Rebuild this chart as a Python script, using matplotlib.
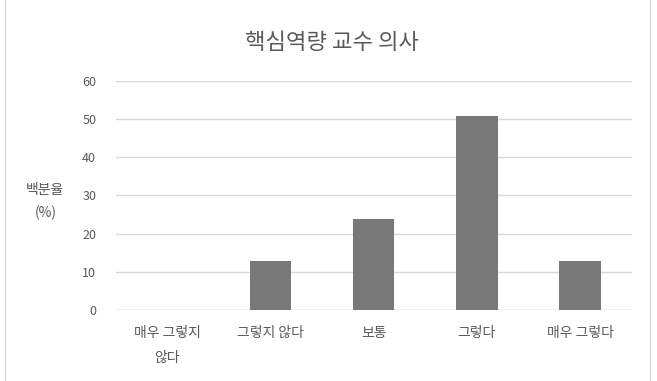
import matplotlib
matplotlib.use("Agg")
import matplotlib.pyplot as plt
from matplotlib.patches import Rectangle

plt.rcParams['font.family'] = ['Noto Sans CJK KR', 'DejaVu Sans']

categories = ["매우 그렇지\n않다", "그렇지 않다", "보통", "그렇다", "매우 그렇다"]
values = [0, 12.7, 23.8, 50.8, 12.7]
yticks = [0, 10, 20, 30, 40, 50, 60]
title = "핵심역량 교수 의사"
ylabel = "백분율\n(%)"

text_color = "#595959"
fig = plt.figure(figsize=(6.57, 3.81), dpi=100)
fig.patch.set_facecolor("white")
ax = fig.add_axes([0.176, 0.187, 0.7855, 0.60])

x = range(len(categories))
ax.bar(x, values, width=0.4, color="#787878", zorder=3)
ax.set_xlim(-0.5, len(categories) - 0.5)
ax.set_ylim(0, 60)
ax.set_yticks(yticks)
ax.set_xticks(list(x))
ax.set_xticklabels(categories, fontsize=10, color=text_color, linespacing=1.95)
ax.tick_params(axis='y', labelsize=9, labelcolor=text_color, length=0, pad=14)
ax.tick_params(axis='x', length=0, pad=12)
for s in ax.spines.values():
    s.set_visible(False)
ax.grid(axis='y', color="#d9d9d9", linewidth=1, zorder=0)
ax.axhline(0, color="#d9d9d9", linewidth=1, zorder=1)

fig.text(0.505, 0.888, title, ha='center', va='center', fontsize=16, color=text_color)
fig.text(0.069, 0.472, ylabel, ha='center', va='center', fontsize=10, color=text_color, linespacing=1.75)

fig.patches.append(Rectangle((0.008, -0.01), 0.982, 1.02, transform=fig.transFigure,
                             fill=False, edgecolor="#d9d9d9", linewidth=1))

fig.savefig("out.png", dpi=100)
